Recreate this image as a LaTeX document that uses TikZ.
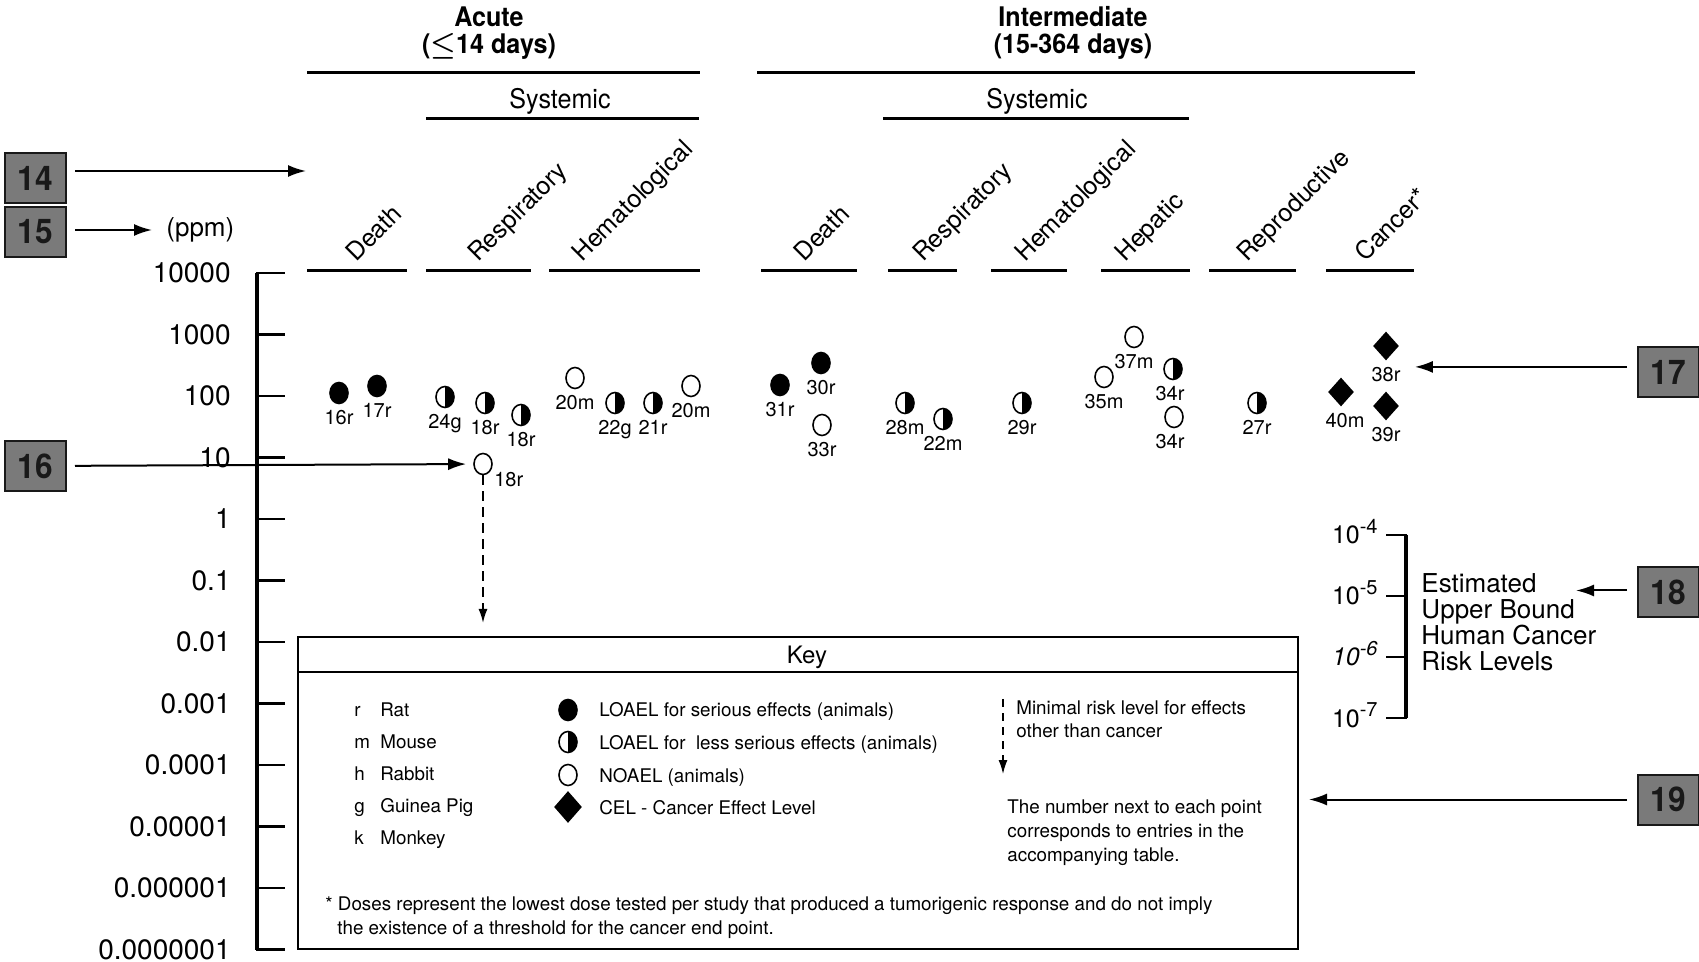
\documentclass[tikz,border=0pt]{standalone}
\usepackage{fontspec}
\setmainfont{TeX Gyre Heros}
\newfontfamily\narrowfont[FakeStretch=0.93]{TeX Gyre Heros}
\usetikzlibrary{positioning,arrows.meta,shapes.geometric}

\newcommand{\riskexp}[1]{10\raisebox{0.42em}{\fontsize{10}{10}\selectfont -#1}}

\tikzset{
	rule/.style={line width=1.5pt},
	axisline/.style={line width=1.6pt},
	ticks/.style={line width=1.4pt},
	ptr/.style={line width=1pt,-{Latex[length=9pt,width=6pt]}},
	mrl/.style={line width=0.9pt,dash pattern=on 5pt off 3pt,-{Latex[length=7pt,width=4.5pt]}},
	numbox/.style={draw=black!90,fill=black!52,line width=1pt,minimum width=30.5pt,minimum height=25pt,inner sep=0pt,text=black!90,font=\narrowfont\bfseries\fontsize{17}{17}\selectfont},
	ttl/.style={align=center,inner sep=0pt,font=\narrowfont\bfseries\fontsize{13.5}{13.75}\selectfont},
	sys/.style={inner sep=0pt,font=\narrowfont\fontsize{13.5}{14}\selectfont},
	cat/.style={rotate=45,anchor=base west,inner sep=0pt,font=\fontsize{12.5}{14}\selectfont},
	ylbl/.style={anchor=east,inner sep=0pt,font=\fontsize{14}{16}\selectfont},
	risklbl/.style={anchor=base east,inner sep=0pt,font=\fontsize{12.5}{14}\selectfont},
	dose/.style={inner sep=0pt,font=\fontsize{10}{12}\selectfont},
	keytxt/.style={anchor=base west,inner sep=0pt,font=\fontsize{9.4}{11}\selectfont},
	dotbase/.style={ellipse,draw=black,line width=0.8pt,minimum width=9pt,minimum height=10.5pt,inner sep=0pt},
	sevdot/.style={dotbase,fill=black},
	halfdot/.style={dotbase,fill=white,path picture={\fill[black] (path picture bounding box.north) rectangle (path picture bounding box.south east);}},
	nodot/.style={dotbase,fill=white},
	celdot/.style={diamond,fill=black,minimum width=13pt,minimum height=14.5pt,inner sep=0pt},
}

\begin{document}
\begin{tikzpicture}[x=0.5pt,y=-0.5pt]
	\useasboundingbox (0,0) rectangle (1699,962);
	%% headings
	\node[ttl] (acute) at (489,33) {Acute\\(\mbox{\boldmath$\leq$}14 days)};
	\node[ttl] (inter) at (1073,33) {Intermediate\\(15-364 days)};
	\draw[rule] (307,72.5) -- (700,72.5);
	\draw[rule] (757,72.5) -- (1415,72.5);
	\node[sys] (sysa) at (560,101) {Systemic};
	\node[sys] (sysi) at (1037,101) {Systemic};
	\draw[rule] (426,119) -- (699,119);
	\draw[rule] (883,119) -- (1189,119);
	%% end point labels
	\foreach \xa/\xb/\xt/\txt in {307/407/356/Death, 426/531/478/Respiratory, 549/700/582/Hematological,
		761/857/804/Death, 888/957/923/Respiratory, 991/1067/1025/Hematological,
		1101/1190/1125/Hepatic, 1209/1296/1247/Reproductive, 1326/1414/1365/Cancer*}{
		\draw[rule] (\xa,271) -- (\xb,271);
		\node[cat] at (\xt,263) {\txt};
	}
	%% y axis
	\draw[axisline] (257,273) -- (257,950);
	\foreach \v [count=\i from 0] in {10000,1000,100,10,1,0.1,0.01,0.001,0.0001,0.00001,0.000001,0.0000001}{
		\draw[ticks] (256.2,273+61.5*\i) -- (285,273+61.5*\i);
		\node[ylbl] (y\i) at (231,273+61.5*\i) {\v};
	}
	\node[anchor=west,inner sep=0pt,font=\fontsize{13}{15}\selectfont] (ppm) at (166,230) {(ppm)};
	%% acute
	\node[sevdot] (p16r) at (339,393) {};
	\node[dose, below=3pt of p16r] (l16r) {16r};
	\node[sevdot] (p17r) at (377,386) {};
	\node[dose, below=3pt of p17r] (l17r) {17r};
	\node[halfdot] (p24g) at (445,397) {};
	\node[dose, below=3pt of p24g] (l24g) {24g};
	\node[halfdot] (p18ra) at (485,403) {};
	\node[dose, below=3pt of p18ra] (l18ra) {18r};
	\node[halfdot] (p18rb) at (521,415) {};
	\node[dose, below=3pt of p18rb] (l18rb) {18r};
	\node[nodot] (p18rd) at (483,464) {};
	\node[dose, below right=0pt and 2pt of p18rd] (l18rd) {18r};
	\coordinate (mrlend) at (483,623);
	\draw[mrl] (p18rd) -- (mrlend);
	\node[nodot] (p20ma) at (575,378) {};
	\node[dose, below=3pt of p20ma] (l20ma) {20m};
	\node[halfdot] (p22g) at (615,403) {};
	\node[dose, below=3pt of p22g] (l22g) {22g};
	\node[halfdot] (p21r) at (653,403) {};
	\node[dose, below=3pt of p21r] (l21r) {21r};
	\node[nodot] (p20mb) at (691,386) {};
	\node[dose, below=3pt of p20mb] (l20mb) {20m};
	%% intermediate
	\node[sevdot] (p31r) at (780,385) {};
	\node[dose, below=3pt of p31r] (l31r) {31r};
	\node[sevdot] (p30r) at (821,363) {};
	\node[dose, below=3pt of p30r] (l30r) {30r};
	\node[nodot] (p33r) at (822,425) {};
	\node[dose, below=3pt of p33r] (l33r) {33r};
	\node[halfdot] (p28m) at (905,403) {};
	\node[dose, below=3pt of p28m] (l28m) {28m};
	\node[halfdot] (p22m) at (943,419) {};
	\node[dose, below=3pt of p22m] (l22m) {22m};
	\node[halfdot] (p29r) at (1022,403) {};
	\node[dose, below=3pt of p29r] (l29r) {29r};
	\node[nodot] (p37m) at (1134,337) {};
	\node[dose, below=3pt of p37m] (l37m) {37m};
	\node[nodot] (p35m) at (1104,377) {};
	\node[dose, below=3pt of p35m] (l35m) {35m};
	\node[halfdot] (p34ra) at (1173,369) {};
	\node[dose, below=3pt of p34ra, xshift=-1.5pt] (l34ra) {34r};
	\node[nodot] (p34rb) at (1174,417) {};
	\node[dose, below=3pt of p34rb, xshift=-2pt] (l34rb) {34r};
	\node[halfdot] (p27r) at (1257,403) {};
	\node[dose, below=3pt of p27r] (l27r) {27r};
	\node[celdot] (p38r) at (1386,346) {};
	\node[dose, below=3pt of p38r] (l38r) {38r};
	\node[celdot] (p40m) at (1341,392) {};
	\node[dose, below=3pt of p40m, xshift=2pt] (l40m) {40m};
	\node[celdot] (p39r) at (1386,406) {};
	\node[dose, below=3pt of p39r] (l39r) {39r};
	%% cancer risk scale
	\draw[axisline] (1406,535) -- (1406,718);
	\foreach \e [count=\i from 0] in {4,5,6,7}{
		\draw[ticks] (1386,535+61*\i) -- (1406.8,535+61*\i);
	}
	\node[risklbl] (r4) at (1378,544) {\riskexp{4}};
	\node[risklbl] (r5) at (1378,605) {\riskexp{5}};
	\node[risklbl,font=\fontsize{12.5}{14}\selectfont\itshape] (r6) at (1378,666) {\riskexp{6}};
	\node[risklbl] (r7) at (1378,727) {\riskexp{7}};
	\node[anchor=west,align=left,inner sep=0pt,font=\fontsize{13}{13}\selectfont] (risk) at (1421,622) {Estimated\\Upper Bound\\Human Cancer\\Risk Levels};
	%% key
	\node[draw,line width=1pt,minimum width=500pt,minimum height=156pt,inner sep=0pt] (keybox) at (798,793) {};
	\draw[line width=1pt] (keybox.west |- 0,672) -- (keybox.east |- 0,672);
	\node[inner sep=0pt,font=\fontsize{12}{14}\selectfont] (keyttl) at (807,657) {Key};
	\foreach \a/\n [count=\i from 0] in {r/Rat,m/Mouse,h/Rabbit,g/Guinea Pig,k/Monkey}{
		\node[keytxt] (ka\i) at (354,717+31.8*\i) {\a};
		\node[keytxt] (kn\i) at (380,717+31.8*\i) {\n};
	}
	\node[sevdot] (ks1) at (568,710) {};
	\node[halfdot] (ks2) at (568,742) {};
	\node[nodot] (ks3) at (568,775) {};
	\node[celdot,minimum width=14pt,minimum height=16pt] (ks4) at (568,807) {};
	\node[keytxt] (kt1) at (599,717) {LOAEL for serious effects (animals)};
	\node[keytxt] (kt2) at (599,749) {LOAEL for\ \ less serious effects (animals)};
	\node[keytxt] (kt3) at (599,782) {NOAEL (animals)};
	\node[keytxt] (kt4) at (599,814) {CEL - Cancer Effect Level};
	\coordinate (kmrla) at (1003,699);
	\coordinate (kmrlb) at (1003,774);
	\draw[mrl,line width=0.7pt,dash pattern=on 4pt off 3pt] (kmrla) -- (kmrlb);
	\node[keytxt] (km1) at (1016,714) {Minimal risk level for effects};
	\node[keytxt] (km2) at (1016,738) {other than cancer};
	\node[keytxt] (kx1) at (1007,813) {The number next to each point};
	\node[keytxt] (kx2) at (1007,837) {corresponds to entries in the};
	\node[keytxt] (kx3) at (1007,861) {accompanying table.};
	\node[keytxt] (fn1) at (325,910.5) {* Doses represent the lowest dose tested per study that produced a tumorigenic response and do not imply};
	\node[keytxt] (fn2) at (337,934.5) {the existence of a threshold for the cancer end point.};
	%% numbered boxes
	\node[numbox] (b14) at (35.5,178) {14};
	\node[numbox] (b15) at (35.5,232) {15};
	\node[numbox] (b16) at (35.5,466) {16};
	\node[numbox] (b17) at (1668.5,372.5) {17};
	\node[numbox] (b18) at (1668.5,592.5) {18};
	\node[numbox] (b19) at (1668.5,799.5) {19};
	\coordinate (t14) at (306,171);
	\coordinate (t18) at (1576,590.5);
	\draw[ptr,shorten <=4pt] (b14.east |- t14) -- (t14);
	\draw[ptr,shorten <=4pt,shorten >=7pt] (b15.east |- ppm.west) -- (ppm.west);
	\draw[ptr,shorten <=4pt,shorten >=3.5pt] (b16) -- (p18rd);
	\draw[ptr,shorten <=5pt,shorten >=7pt] (b17.west |- l38r.north) -- (l38r.north east);
	\draw[ptr,shorten <=5pt] (b18.west |- t18) -- (t18);
	\draw[ptr,shorten <=5pt,shorten >=5pt] (b19) -- (b19 -| keybox.east);
\end{tikzpicture}
\end{document}
